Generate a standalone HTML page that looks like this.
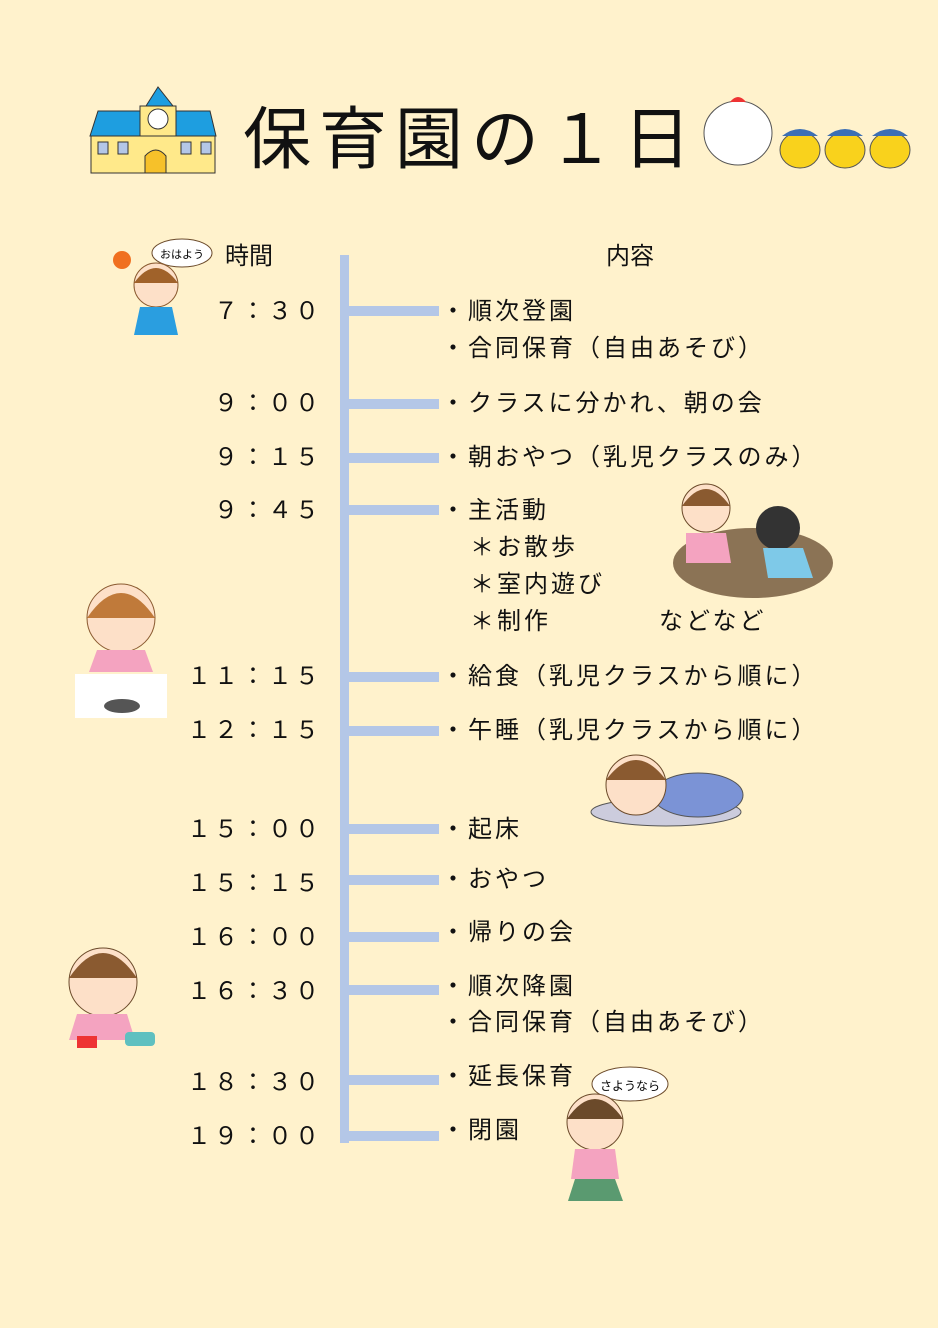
<!DOCTYPE html>
<html><head><meta charset="utf-8"><style>
body{margin:0;width:938px;height:1328px;background:#fff2cc;position:relative;overflow:hidden;font-family:"Liberation Sans","Noto Sans CJK JP",sans-serif;color:#111}
.a{position:absolute;white-space:nowrap}
.t{font-size:24px;letter-spacing:3px;right:616px;text-align:right;line-height:30px}
.c{font-size:24px;letter-spacing:3px;left:441px;line-height:30px}
.b{position:absolute;left:349px;width:90px;height:10px;background:#b4c7e7}
</style></head><body>
<svg class="a" style="left:88px;top:84px" width="145" height="90">
<polygon points="58,22 70,3 85,22" fill="#1e9ee0" stroke="#333"/>
<polygon points="10,27 52,27 52,52 2,52" fill="#1e9ee0" stroke="#333"/>
<polygon points="88,27 122,27 128,52 88,52" fill="#1e9ee0" stroke="#333"/>
<rect x="52" y="22" width="36" height="30" fill="#ffe98a" stroke="#333"/>
<circle cx="70" cy="35" r="10" fill="#fff" stroke="#333"/>
<rect x="3" y="52" width="124" height="37" fill="#ffe98a" stroke="#333"/>
<path d="M57,89 V72 Q68,60 78,72 V89Z" fill="#f6c12a" stroke="#333"/>
<rect x="10" y="58" width="10" height="12" fill="#b4c7e7" stroke="#333"/>
<rect x="30" y="58" width="10" height="12" fill="#b4c7e7" stroke="#333"/>
<rect x="93" y="58" width="10" height="12" fill="#b4c7e7" stroke="#333"/>
<rect x="113" y="58" width="10" height="12" fill="#b4c7e7" stroke="#333"/>
</svg>
<div class="a" style="left:243px;top:90px;font-size:68px;letter-spacing:8px;line-height:100px">保育園の１日</div>
<svg class="a" style="left:700px;top:88px" width="215" height="90">
<ellipse cx="38" cy="45" rx="34" ry="32" fill="#fff" stroke="#555"/>
<path d="M30,14 q8,-10 16,0" fill="#e33"/>
<ellipse cx="100" cy="62" rx="20" ry="18" fill="#f9d21c" stroke="#555"/>
<ellipse cx="145" cy="62" rx="20" ry="18" fill="#f9d21c" stroke="#555"/>
<ellipse cx="190" cy="62" rx="20" ry="18" fill="#f9d21c" stroke="#555"/>
<path d="M82,48 q18,-14 36,0z M127,48 q18,-14 36,0z M172,48 q18,-14 36,0z" fill="#3b6fb5"/>
</svg>
<div class="a" style="left:225px;top:242px;font-size:24px;line-height:30px">時間</div>
<div class="a" style="left:606px;top:242px;font-size:24px;line-height:30px">内容</div>
<div style="position:absolute;left:340px;top:255px;width:9px;height:888px;background:#b4c7e7"></div>
<div class="b" style="top:306px"></div><div class="b" style="top:399px"></div><div class="b" style="top:453px"></div><div class="b" style="top:505px"></div><div class="b" style="top:672px"></div><div class="b" style="top:726px"></div><div class="b" style="top:824px"></div><div class="b" style="top:875px"></div><div class="b" style="top:932px"></div><div class="b" style="top:985px"></div><div class="b" style="top:1075px"></div><div class="b" style="top:1131px"></div>
<div class="a t" style="top:297px">７：３０</div>
<div class="a t" style="top:389px">９：００</div>
<div class="a t" style="top:443px">９：１５</div>
<div class="a t" style="top:496px">９：４５</div>
<div class="a t" style="top:662px">１１：１５</div>
<div class="a t" style="top:716px">１２：１５</div>
<div class="a t" style="top:815px">１５：００</div>
<div class="a t" style="top:869px">１５：１５</div>
<div class="a t" style="top:923px">１６：００</div>
<div class="a t" style="top:977px">１６：３０</div>
<div class="a t" style="top:1068px">１８：３０</div>
<div class="a t" style="top:1122px">１９：００</div>
<div class="a c" style="top:297px">・順次登園</div>
<div class="a c" style="top:334px">・合同保育（自由あそび）</div>
<div class="a c" style="top:389px">・クラスに分かれ、朝の会</div>
<div class="a c" style="top:443px">・朝おやつ（乳児クラスのみ）</div>
<div class="a c" style="top:496px">・主活動</div>
<div class="a c" style="top:533px;left:470px">＊お散歩</div>
<div class="a c" style="top:570px;left:470px">＊室内遊び</div>
<div class="a c" style="top:607px;left:470px">＊制作　　　　などなど</div>
<div class="a c" style="top:662px">・給食（乳児クラスから順に）</div>
<div class="a c" style="top:716px">・午睡（乳児クラスから順に）</div>
<div class="a c" style="top:815px">・起床</div>
<div class="a c" style="top:865px">・おやつ</div>
<div class="a c" style="top:918px">・帰りの会</div>
<div class="a c" style="top:972px">・順次降園</div>
<div class="a c" style="top:1008px">・合同保育（自由あそび）</div>
<div class="a c" style="top:1062px">・延長保育</div>
<div class="a c" style="top:1116px">・閉園</div>
<svg class="a" style="left:100px;top:235px" width="120" height="115">
<circle cx="22" cy="25" r="9" fill="#f07020"/>
<ellipse cx="82" cy="18" rx="30" ry="14" fill="#fff" stroke="#6b4a2a"/>
<text x="60" y="23" font-size="11" font-family="Noto Sans CJK JP">おはよう</text>
<circle cx="56" cy="50" r="22" fill="#fde0c8" stroke="#8a5a30"/>
<path d="M34,48 q22,-30 44,0" fill="#a0622a"/>
<path d="M40,72 h32 l6,28 h-44z" fill="#2a9ee0"/>
</svg>
<svg class="a" style="left:75px;top:578px" width="95" height="142">
<circle cx="46" cy="40" r="34" fill="#fde0c8" stroke="#8a5a30"/>
<path d="M12,40 q34,-50 68,0" fill="#c07a3a"/>
<path d="M22,72 h48 l8,22 h-64z" fill="#f4a3c0"/>
<rect x="0" y="96" width="92" height="44" fill="#fff"/>
<ellipse cx="47" cy="128" rx="18" ry="7" fill="#555"/>
</svg>
<svg class="a" style="left:668px;top:478px" width="165" height="125">
<ellipse cx="85" cy="85" rx="80" ry="35" fill="#8b7355"/>
<circle cx="38" cy="30" r="24" fill="#fde0c8" stroke="#6b4a2a"/>
<path d="M14,28 q24,-34 48,0" fill="#8a5a30"/>
<circle cx="110" cy="50" r="22" fill="#333"/>
<path d="M95,70 h40 l10,30 h-45z" fill="#7ec9e8"/>
<path d="M18,55 h40 l5,30 h-45z" fill="#f4a3c0"/>
</svg>
<svg class="a" style="left:588px;top:750px" width="160" height="80">
<ellipse cx="78" cy="62" rx="75" ry="14" fill="#ccd" stroke="#555"/>
<ellipse cx="110" cy="45" rx="45" ry="22" fill="#7b93d6" stroke="#555"/>
<circle cx="48" cy="35" r="30" fill="#fde0c8" stroke="#6b4a2a"/>
<path d="M18,30 q30,-40 60,0" fill="#8a5a30"/>
</svg>
<svg class="a" style="left:55px;top:940px" width="105" height="115">
<circle cx="48" cy="42" r="34" fill="#fde0c8" stroke="#6b4a2a"/>
<path d="M14,38 q34,-50 68,0" fill="#8a5a30"/>
<path d="M22,74 h50 l8,26 h-66z" fill="#f4a3c0"/>
<rect x="70" y="92" width="30" height="14" rx="4" fill="#5fc0c0"/>
<rect x="22" y="96" width="20" height="12" fill="#e33"/>
</svg>
<svg class="a" style="left:555px;top:1064px" width="115" height="145">
<ellipse cx="75" cy="20" rx="38" ry="17" fill="#fff" stroke="#6b4a2a"/>
<text x="45" y="26" font-size="12" font-family="Noto Sans CJK JP">さようなら</text>
<circle cx="40" cy="58" r="28" fill="#fde0c8" stroke="#6b4a2a"/>
<path d="M12,55 q28,-40 56,0" fill="#6b4a2a"/>
<path d="M20,85 h40 l4,30 h-48z" fill="#f4a3c0"/>
<path d="M20,115 h40 l8,22 h-55z" fill="#5a9a70"/>
</svg>
</body></html>
